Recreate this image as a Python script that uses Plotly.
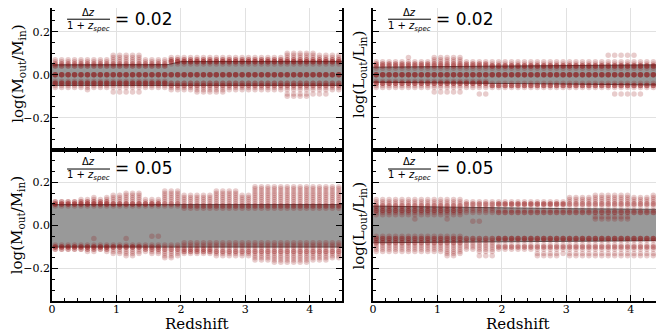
import plotly.graph_objects as go
from plotly.subplots import make_subplots

# redshift bin centres (one column of points per bin)
REDSHIFT = [0.05, 0.15, 0.25, 0.35, 0.45, 0.55, 0.65, 0.75, 0.85, 0.95,
            1.05, 1.15, 1.25, 1.35, 1.45, 1.55, 1.65, 1.75, 1.85, 1.95,
            2.05, 2.15, 2.25, 2.35, 2.45, 2.55, 2.65, 2.75, 2.85, 2.95,
            3.05, 3.15, 3.25, 3.35, 3.45, 3.55, 3.65, 3.75, 3.85, 3.95,
            4.05, 4.15, 4.25, 4.35, 4.45]

# log ratios per redshift column, in units of 0.01
MASS_02 = [
    [7, 6, 5, 5, 4, 4, 0, 0, 0, 0, -3, -4, -4, -4, -5, -6],
    [7, 6, 5, 5, 4, 4, 0, 0, 0, 0, -3, -4, -4, -4, -5, -6],
    [7, 6, 5, 5, 4, 4, 0, 0, 0, 0, -3, -4, -4, -4, -5, -6],
    [7, 6, 5, 5, 4, 4, 0, 0, 0, 0, -3, -4, -4, -4, -5, -6],
    [7, 6, 5, 5, 4, 4, 0, 0, 0, 0, -3, -4, -4, -4, -5, -6],
    [7, 6, 5, 5, 4, 4, 0, 0, 0, 0, -3, -4, -4, -4, -5, -6, -7],
    [7, 6, 5, 5, 4, 4, 0, 0, 0, 0, -3, -4, -4, -4, -5, -6],
    [7, 6, 5, 5, 4, 4, 0, 0, 0, 0, -3, -4, -4, -4, -5, -6],
    [7, 6, 5, 5, 4, 4, 0, 0, 0, 0, -3, -4, -4, -4, -5, -6],
    [9, 8, 7, 6, 5, 5, 4, 4, 0, 0, 0, 0, -3, -4, -4, -4, -5, -6, -8],
    [9, 8, 7, 6, 5, 5, 4, 4, 0, 0, 0, 0, -3, -4, -4, -4, -5, -6, -8],
    [9, 8, 7, 6, 5, 5, 4, 4, 0, 0, 0, 0, -3, -4, -4, -4, -5, -6, -8],
    [9, 8, 7, 6, 5, 5, 4, 4, 0, 0, 0, 0, -3, -4, -4, -4, -5, -6, -8],
    [9, 8, 7, 6, 5, 5, 4, 4, 0, 0, 0, 0, -3, -4, -4, -4, -5, -6, -8],
    [7, 6, 5, 5, 4, 4, 0, 0, 0, 0, -3, -4, -4, -4, -5, -6],
    [7, 6, 5, 5, 4, 4, 0, 0, 0, 0, -3, -4, -4, -4, -5, -6],
    [7, 6, 5, 5, 4, 4, 0, 0, 0, 0, -3, -4, -4, -4, -5, -6],
    [7, 6, 5, 5, 4, 4, 0, 0, 0, 0, -3, -4, -4, -4, -5, -6],
    [8, 7, 7, 6, 6, 6, 5, 0, 0, 0, 0, -4, -4, -5, -5, -6, -7],
    [8, 7, 7, 6, 6, 6, 5, 0, 0, 0, 0, -4, -4, -5, -5, -6, -7],
    [8, 7, 7, 6, 6, 6, 5, 0, 0, 0, 0, -4, -4, -5, -5, -6, -7],
    [8, 7, 7, 6, 6, 6, 5, 0, 0, 0, 0, -4, -4, -5, -5, -6, -7],
    [8, 7, 7, 6, 6, 6, 5, 0, 0, 0, 0, -4, -4, -5, -5, -6, -7, -8],
    [8, 7, 7, 6, 6, 6, 5, 0, 0, 0, 0, -4, -4, -5, -5, -6, -7, -8],
    [8, 7, 7, 6, 6, 6, 5, 0, 0, 0, 0, -4, -4, -5, -5, -6, -7, -8],
    [8, 7, 7, 6, 6, 6, 5, 0, 0, 0, 0, -4, -4, -5, -5, -6, -7, -8],
    [8, 7, 7, 6, 6, 6, 5, 0, 0, 0, 0, -4, -4, -5, -5, -6, -7, -8],
    [8, 7, 7, 6, 6, 6, 5, 0, 0, 0, 0, -4, -4, -5, -5, -6, -7],
    [8, 7, 7, 6, 6, 6, 5, 0, 0, 0, 0, -4, -4, -5, -5, -6, -7],
    [8, 7, 7, 6, 6, 6, 5, 0, 0, 0, 0, -4, -4, -5, -5, -6, -7],
    [8, 7, 7, 6, 6, 6, 5, 0, 0, 0, 0, -4, -4, -5, -5, -6, -7],
    [8, 7, 7, 6, 6, 6, 5, 0, 0, 0, 0, -4, -4, -5, -5, -6, -7],
    [8, 7, 7, 6, 6, 6, 5, 0, 0, 0, 0, -4, -4, -5, -5, -6, -7],
    [8, 7, 7, 6, 6, 6, 5, 0, 0, 0, 0, -4, -4, -5, -5, -6, -7],
    [8, 7, 7, 6, 6, 6, 5, 0, 0, 0, 0, -4, -4, -5, -5, -6, -7],
    [8, 7, 7, 6, 6, 6, 5, 0, 0, 0, 0, -4, -4, -5, -5, -6, -7],
    [10, 9, 8, 7, 7, 6, 6, 6, 5, 0, 0, 0, 0, -4, -4, -5, -5, -6, -7, -9, -10],
    [10, 9, 8, 7, 7, 6, 6, 6, 5, 0, 0, 0, 0, -4, -4, -5, -5, -6, -7, -9, -10],
    [10, 9, 8, 7, 7, 6, 6, 6, 5, 0, 0, 0, 0, -4, -4, -5, -5, -6, -7, -9, -10],
    [10, 9, 8, 7, 7, 6, 6, 6, 5, 0, 0, 0, 0, -4, -4, -5, -5, -6, -7, -9, -10],
    [10, 9, 8, 7, 7, 6, 6, 6, 5, 0, 0, 0, 0, -4, -4, -5, -5, -6, -7, -9],
    [9, 8, 7, 7, 6, 6, 6, 5, 0, 0, 0, 0, -4, -4, -5, -5, -6, -7, -9],
    [9, 8, 7, 7, 6, 6, 6, 5, 0, 0, 0, 0, -4, -4, -5, -5, -6, -7, -9],
    [9, 8, 7, 7, 6, 6, 6, 5, 0, 0, 0, 0, -4, -4, -5, -5, -6, -7],
    [9, 8, 7, 7, 6, 6, 6, 5, 0, 0, 0, 0, -4, -4, -5, -5, -6, -7],
]

MASS_05 = [
    [11, 11, 10, 10, 10, 9, -9, -10, -10, -10, -11, -11],
    [11, 11, 10, 10, 10, 9, -9, -10, -10, -10, -11, -11],
    [11, 11, 10, 10, 10, 9, -9, -10, -10, -10, -11, -11],
    [11, 11, 10, 10, 10, 9, -9, -10, -10, -10, -11, -11],
    [12, 11, 11, 10, 10, 10, 9, -9, -10, -10, -10, -11, -11],
    [12, 11, 11, 10, 10, 10, 9, -9, -10, -10, -10, -11, -11, -12],
    [13, 12, 11, 11, 10, 10, 10, 9, -6, -9, -10, -10, -10, -11, -11, -12],
    [12, 11, 11, 10, 10, 10, 9, -9, -10, -10, -10, -11, -11],
    [13, 12, 11, 11, 10, 10, 10, 9, -9, -10, -10, -10, -11, -11, -12],
    [14, 13, 12, 11, 10, 10, 10, 9, -9, -10, -10, -10, -11, -12, -13],
    [14, 13, 12, 11, 10, 10, 10, 9, -9, -10, -10, -10, -11, -12, -13],
    [15, 14, 13, 12, 11, 10, 10, 10, 9, -6, -9, -10, -10, -10, -11, -12, -13, -14],
    [15, 14, 13, 12, 11, 10, 10, 10, 9, -9, -10, -10, -10, -11, -12, -13, -14],
    [15, 14, 13, 12, 11, 10, 10, 10, 9, -9, -10, -10, -10, -11, -12, -13],
    [12, 11, 10, 10, 10, 9, -9, -10, -10, -11, -11, -12],
    [12, 11, 10, 10, 10, 9, -5, -9, -10, -10, -11, -11, -12, -13],
    [12, 11, 10, 10, 10, 9, -5, -9, -10, -10, -11, -11, -12, -13],
    [16, 15, 14, 13, 12, 11, 10, 10, 9, -9, -10, -11, -11, -12, -13, -14, -15],
    [16, 15, 14, 13, 12, 11, 10, 10, 9, -9, -10, -11, -11, -12, -13, -14, -15],
    [16, 15, 14, 13, 12, 11, 10, 10, 9, -9, -10, -11, -11, -12, -13, -14],
    [14, 13, 12, 11, 10, 9, 9, 8, -8, -9, -10, -11, -11, -12, -12, -13],
    [14, 13, 12, 11, 10, 9, 9, 8, -8, -9, -10, -11, -11, -12, -12, -13],
    [14, 13, 12, 11, 10, 9, 9, 8, -8, -9, -10, -11, -11, -12, -12, -13],
    [14, 13, 12, 11, 10, 9, 9, 8, -8, -9, -10, -11, -11, -12, -12, -13],
    [14, 13, 12, 11, 10, 9, 9, 8, -8, -9, -10, -11, -11, -12, -12, -13],
    [16, 15, 14, 13, 12, 11, 10, 9, 9, 8, -8, -9, -10, -11, -12, -12, -13, -14],
    [16, 15, 14, 13, 12, 11, 10, 9, 9, 8, -8, -9, -10, -11, -12, -12, -13, -14],
    [16, 15, 14, 13, 12, 11, 10, 9, 9, 8, -8, -9, -10, -11, -12, -12, -13, -14],
    [16, 15, 14, 13, 12, 11, 10, 9, 9, 8, -8, -9, -10, -11, -12, -12, -13, -14],
    [14, 13, 12, 11, 10, 9, 9, 8, -8, -9, -10, -11, -12, -12, -13, -14],
    [14, 13, 12, 11, 10, 9, 9, 8, -8, -9, -10, -11, -12, -12, -13, -14],
    [18, 17, 16, 15, 14, 13, 12, 11, 10, 9, 9, 8, -8, -9, -10, -11, -12, -12, -13, -14, -15, -16],
    [18, 17, 16, 15, 14, 13, 12, 11, 10, 9, 9, 8, -8, -9, -10, -11, -12, -12, -13, -14, -15, -16],
    [18, 17, 16, 15, 14, 13, 12, 11, 10, 9, 9, 8, -8, -9, -10, -11, -12, -12, -13, -14, -15, -16],
    [18, 17, 16, 15, 14, 13, 12, 11, 10, 9, 9, 8, -8, -9, -10, -11, -12, -12, -13, -14, -15, -16, -17],
    [18, 17, 16, 15, 14, 13, 12, 11, 10, 9, 9, 8, -8, -9, -10, -11, -12, -12, -13, -14, -15, -16, -17],
    [18, 17, 16, 15, 14, 13, 12, 11, 10, 9, 9, 8, -8, -9, -10, -11, -12, -12, -13, -14, -15, -16, -17],
    [18, 17, 16, 15, 14, 13, 12, 11, 10, 9, 9, 8, -8, -9, -10, -11, -12, -12, -13, -14, -15, -16, -17],
    [18, 17, 16, 15, 14, 13, 12, 11, 10, 9, 9, 8, -8, -9, -10, -11, -12, -12, -13, -14, -15, -16, -17],
    [18, 17, 16, 15, 14, 13, 12, 11, 10, 9, 9, 8, -8, -9, -10, -11, -12, -12, -13, -14, -15, -16, -17],
    [18, 17, 16, 15, 14, 13, 12, 11, 10, 9, 9, 8, -8, -9, -10, -11, -12, -12, -13, -14, -15, -16],
    [18, 17, 16, 15, 14, 13, 12, 11, 10, 9, 9, 8, -8, -9, -10, -11, -12, -12, -13, -14, -15, -16],
    [18, 17, 16, 15, 14, 13, 12, 11, 10, 9, 9, 8, -8, -9, -10, -11, -12, -12, -13, -14, -15, -16],
    [18, 17, 16, 15, 14, 13, 12, 11, 10, 9, 9, 8, -8, -9, -10, -11, -12, -12, -13, -14, -15],
    [18, 17, 16, 15, 14, 13, 12, 11, 10, 9, 9, 8, -8, -9, -10, -11, -12, -12, -13, -14, -15],
]

LUM_02 = [
    [6, 5, 5, 4, 4, 3, 0, 0, 0, 0, -3, -4, -4, -4, -5, -6],
    [6, 5, 5, 4, 4, 3, 0, 0, 0, 0, -3, -4, -4, -4, -5, -6],
    [6, 5, 5, 4, 4, 3, 0, 0, 0, 0, -3, -4, -4, -4, -5, -6],
    [6, 5, 5, 4, 4, 3, 0, 0, 0, 0, -3, -4, -4, -4, -5, -6],
    [6, 5, 5, 4, 4, 3, 0, 0, 0, 0, -3, -4, -4, -4, -5, -6],
    [8, 6, 5, 5, 4, 4, 3, 0, 0, 0, 0, -3, -4, -4, -4, -5, -6],
    [6, 5, 5, 4, 4, 3, 0, 0, 0, 0, -3, -4, -4, -4, -5, -6],
    [6, 5, 5, 4, 4, 3, 0, 0, 0, 0, -3, -4, -4, -4, -5, -6],
    [6, 5, 5, 4, 4, 3, 0, 0, 0, 0, -3, -4, -4, -4, -5, -6],
    [8, 7, 6, 5, 5, 4, 4, 3, 0, 0, 0, 0, -3, -4, -4, -4, -5, -6, -8],
    [8, 7, 6, 5, 5, 4, 4, 3, 0, 0, 0, 0, -3, -4, -4, -4, -5, -6, -8],
    [8, 7, 6, 5, 5, 4, 4, 3, 0, 0, 0, 0, -3, -4, -4, -4, -5, -6, -8],
    [8, 7, 6, 5, 5, 4, 4, 3, 0, 0, 0, 0, -3, -4, -4, -4, -5, -6, -8],
    [8, 7, 6, 5, 5, 4, 4, 3, 0, 0, 0, 0, -3, -4, -4, -4, -5, -6, -8],
    [6, 5, 5, 4, 4, 3, 0, 0, 0, 0, -3, -4, -4, -4, -5, -6],
    [6, 5, 5, 4, 4, 3, 0, 0, 0, 0, -3, -4, -4, -4, -5, -6],
    [6, 5, 5, 4, 4, 3, 0, 0, 0, 0, -3, -4, -4, -4, -5, -6, -9],
    [6, 5, 5, 4, 4, 3, 0, 0, 0, 0, -3, -4, -4, -4, -5, -6, -9],
    [6, 5, 4, 4, 4, 3, 0, 0, 0, 0, -4, -5, -5, -5, -6],
    [6, 5, 4, 4, 4, 3, 0, 0, 0, 0, -4, -5, -5, -5, -6],
    [6, 5, 4, 4, 4, 3, 0, 0, 0, 0, -4, -5, -5, -5, -6],
    [6, 5, 4, 4, 4, 3, 0, 0, 0, 0, -4, -5, -5, -5, -6],
    [6, 5, 4, 4, 4, 3, 0, 0, 0, 0, -4, -5, -5, -5, -6],
    [6, 5, 4, 4, 4, 3, 0, 0, 0, 0, -4, -5, -5, -5, -6],
    [6, 5, 4, 4, 4, 3, 0, 0, 0, 0, -4, -5, -5, -5, -6],
    [6, 5, 4, 4, 4, 3, 0, 0, 0, 0, -4, -5, -5, -5, -6],
    [6, 5, 4, 4, 4, 3, 0, 0, 0, 0, -4, -5, -5, -5, -6],
    [6, 5, 4, 4, 4, 3, 0, 0, 0, 0, -4, -5, -5, -5, -6],
    [6, 5, 4, 4, 4, 3, 0, 0, 0, 0, -4, -5, -5, -5, -6],
    [6, 5, 4, 4, 4, 3, 0, 0, 0, 0, -4, -5, -5, -5, -6],
    [6, 5, 4, 4, 4, 3, 0, 0, 0, 0, -4, -5, -5, -5, -6],
    [6, 5, 4, 4, 4, 3, 0, 0, 0, 0, -4, -5, -5, -5, -6],
    [6, 5, 4, 4, 4, 3, 0, 0, 0, 0, -4, -5, -5, -5, -6],
    [6, 5, 4, 4, 4, 3, 0, 0, 0, 0, -4, -5, -5, -5, -6],
    [6, 5, 4, 4, 4, 3, 0, 0, 0, 0, -4, -5, -5, -5, -6],
    [6, 5, 4, 4, 4, 3, 0, 0, 0, 0, -4, -5, -5, -5, -6],
    [9, 6, 5, 4, 4, 4, 3, 0, 0, 0, 0, -4, -5, -5, -5, -6],
    [9, 6, 5, 4, 4, 4, 3, 0, 0, 0, 0, -4, -5, -5, -5, -6, -9],
    [9, 6, 5, 4, 4, 4, 3, 0, 0, 0, 0, -4, -5, -5, -5, -6, -9],
    [9, 6, 5, 4, 4, 4, 3, 0, 0, 0, 0, -4, -5, -5, -5, -6, -9],
    [9, 6, 5, 4, 4, 4, 3, 0, 0, 0, 0, -4, -5, -5, -5, -6, -9],
    [6, 5, 4, 4, 4, 3, 0, 0, 0, 0, -4, -5, -5, -5, -6, -9],
    [6, 5, 4, 4, 4, 3, 0, 0, 0, 0, -4, -5, -5, -5, -6],
    [6, 5, 4, 4, 4, 3, 0, 0, 0, 0, -4, -5, -5, -5, -6],
    [6, 5, 4, 4, 4, 3, 0, 0, 0, 0, -4, -5, -5, -5, -6],
]

LUM_05 = [
    [12, 11, 10, 9, 9, 8, 7, 7, 6, 5, -5, -6, -6, -7, -8, -8, -9, -10, -11, -12],
    [12, 11, 10, 9, 9, 8, 7, 7, 6, 5, -5, -6, -6, -7, -8, -8, -9, -10, -11, -12],
    [12, 11, 10, 9, 9, 8, 7, 7, 6, 5, -5, -6, -6, -7, -8, -8, -9, -10, -11, -12],
    [12, 11, 10, 9, 9, 8, 7, 7, 6, 5, -5, -6, -6, -7, -8, -8, -9, -10, -11, -12],
    [12, 11, 10, 9, 9, 8, 7, 7, 6, 5, -5, -6, -6, -7, -8, -8, -9, -10, -11, -12],
    [12, 11, 10, 9, 9, 8, 7, 7, 6, 5, -5, -6, -6, -7, -8, -8, -9, -10, -11, -12],
    [12, 11, 10, 9, 9, 8, 7, 7, 6, 5, 3, -5, -6, -6, -7, -8, -8, -9, -10, -11, -12],
    [12, 11, 10, 9, 9, 8, 7, 7, 6, 5, -5, -6, -6, -7, -8, -8, -9, -10, -11, -12],
    [12, 11, 10, 9, 9, 8, 7, 7, 6, 5, -5, -6, -6, -7, -8, -8, -9, -10, -11, -12],
    [12, 11, 10, 9, 9, 8, 7, 7, 6, 5, -5, -6, -6, -7, -8, -8, -9, -10, -11, -12],
    [12, 11, 10, 9, 9, 8, 7, 7, 6, 5, -5, -6, -6, -7, -8, -8, -9, -10, -11, -12],
    [12, 11, 10, 9, 9, 8, 7, 7, 6, 5, 3, -5, -6, -6, -7, -8, -8, -9, -10, -11, -12, -13, -14],
    [12, 11, 10, 9, 9, 8, 7, 7, 6, 5, -5, -6, -6, -7, -8, -8, -9, -10, -11, -12, -13, -14],
    [12, 11, 10, 9, 9, 8, 7, 7, 6, 5, -5, -6, -6, -7, -8, -8, -9, -10, -11, -12, -13],
    [11, 10, 10, 9, 8, 7, 6, -6, -6, -7, -8, -9, -10, -11],
    [11, 10, 10, 9, 8, 7, 6, 2, -6, -6, -7, -8, -9, -10, -11],
    [11, 10, 10, 9, 8, 7, 6, 2, -6, -6, -7, -8, -9, -10, -11, -12, -14],
    [11, 10, 10, 9, 8, 7, 6, -6, -6, -7, -8, -9, -10, -11, -12, -14],
    [11, 10, 10, 9, 8, 7, 6, -6, -6, -7, -8, -9, -10, -11, -12, -14],
    [11, 10, 10, 10, 9, 7, 6, 6, -6, -6, -6, -7, -9, -10, -10, -11],
    [11, 10, 10, 10, 9, 7, 6, 6, -6, -6, -6, -7, -9, -10, -10, -11],
    [11, 10, 10, 10, 9, 7, 6, 6, -6, -6, -6, -7, -9, -10, -10, -11],
    [11, 10, 10, 10, 9, 7, 6, 6, -6, -6, -6, -7, -9, -10, -10, -11],
    [11, 10, 10, 10, 9, 7, 6, 6, -6, -6, -6, -7, -9, -10, -10, -11],
    [11, 10, 10, 10, 9, 7, 6, 6, -6, -6, -6, -7, -9, -10, -10, -11],
    [11, 10, 10, 10, 9, 7, 6, 6, -6, -6, -6, -7, -9, -10, -10, -11, -13, -14],
    [11, 10, 10, 10, 9, 7, 6, 6, -6, -6, -6, -7, -9, -10, -10, -11, -13, -14],
    [11, 10, 10, 10, 9, 7, 6, 6, -6, -6, -6, -7, -9, -10, -10, -11, -13, -14],
    [11, 10, 10, 10, 9, 7, 6, 6, -6, -6, -6, -7, -9, -10, -10, -11, -13, -14],
    [11, 10, 10, 10, 9, 7, 6, 6, -6, -6, -6, -7, -9, -10, -10, -11, -13],
    [13, 12, 11, 10, 10, 9, 7, 6, 6, -6, -6, -6, -7, -9, -10, -10, -11, -13, -14],
    [13, 12, 11, 10, 10, 9, 7, 6, 6, -6, -6, -6, -7, -9, -10, -10, -11, -13, -14],
    [13, 12, 11, 10, 10, 9, 7, 6, 6, -6, -6, -6, -7, -9, -10, -10, -11, -13, -14],
    [13, 12, 11, 10, 10, 9, 7, 6, 6, -6, -6, -6, -7, -9, -10, -10, -11, -13, -14],
    [14, 13, 12, 11, 10, 10, 9, 7, 6, 6, 4, 3, -6, -6, -6, -7, -9, -10, -10, -11, -13, -14],
    [14, 13, 12, 11, 10, 10, 9, 7, 6, 6, 4, 3, -6, -6, -6, -7, -9, -10, -10, -11, -13, -14],
    [14, 13, 12, 11, 10, 10, 9, 7, 6, 6, 4, 3, -6, -6, -6, -7, -9, -10, -10, -11, -13, -14],
    [14, 13, 12, 11, 10, 10, 9, 7, 6, 6, 4, 3, -6, -6, -6, -7, -9, -10, -10, -11, -13, -14],
    [14, 13, 12, 11, 10, 10, 9, 7, 6, 6, 4, 3, -6, -6, -6, -7, -9, -10, -10, -11, -13, -14],
    [14, 13, 12, 11, 10, 10, 9, 7, 6, 6, 4, 3, -6, -6, -6, -7, -9, -10, -10, -11, -13, -14],
    [13, 12, 11, 10, 10, 9, 7, 6, 6, -6, -6, -6, -7, -9, -10, -10, -11, -13, -14],
    [13, 12, 11, 10, 10, 9, 7, 6, 6, -6, -6, -6, -7, -9, -10, -10, -11, -13, -14],
    [13, 12, 11, 10, 10, 9, 7, 6, 6, -6, -6, -6, -7, -9, -10, -10, -11, -13, -14],
    [14, 13, 12, 11, 10, 10, 9, 7, 6, 6, -6, -6, -6, -7, -9, -10, -10, -11, -13, -14],
    [13, 12, 11, 10, 10, 9, 7, 6, 6, -6, -6, -6, -7, -9, -10, -10, -11, -13, -14],
]

# grey scatter band (lower / upper edge) along redshift
BAND_Z = [0.0, 1.0, 1.8, 2.0, 3.0, 4.0, 4.5]
BAND_MASS_02 = ([-0.05, -0.05, -0.05, -0.05, -0.05, -0.05, -0.05],
                [0.046, 0.046, 0.047, 0.061, 0.062, 0.062, 0.062])
BAND_MASS_05 = ([-0.10, -0.10, -0.10, -0.10, -0.10, -0.10, -0.10],
                [0.097, 0.097, 0.097, 0.097, 0.097, 0.097, 0.097])
BAND_LUM_02 = ([-0.035, -0.038, -0.040, -0.042, -0.045, -0.047, -0.048],
               [0.035, 0.037, 0.039, 0.040, 0.042, 0.045, 0.046])
BAND_LUM_05 = ([-0.08, -0.078, -0.076, -0.075, -0.072, -0.070, -0.070],
               [0.090, 0.085, 0.082, 0.080, 0.078, 0.076, 0.075])

PANELS = [
    (1, 1, MASS_02, BAND_MASS_02, "0.02"),
    (1, 2, LUM_02, BAND_LUM_02, "0.02"),
    (2, 1, MASS_05, BAND_MASS_05, "0.05"),
    (2, 2, LUM_05, BAND_LUM_05, "0.05"),
]

Y_TITLES = {1: "log(M<sub>out</sub>/M<sub>in</sub>)", 2: "log(L<sub>out</sub>/L<sub>in</sub>)"}
X_TITLE = "Redshift"

SERIF = "DejaVu Serif"
SANS = "DejaVu Sans"

# the page body adds an 8px offset, so the figure is laid out 8px smaller
fig = make_subplots(rows=2, cols=2, shared_xaxes=True, shared_yaxes=True,
                    horizontal_spacing=0.0507, vertical_spacing=0.0,
                    row_heights=[142, 151])

# vertical label positions (domain fraction) per row: numerator, bar, denominator, "= x"
LABEL_Y = {1: (0.968, 0.921, 0.872, 0.925), 2: (0.922, 0.874, 0.828, 0.88)}
title_font = dict(family=SERIF, size=15, color="black")

for k, (row, col, cols, band, dz) in enumerate(PANELS):
    lo, hi = band
    fig.add_trace(go.Scatter(x=BAND_Z, y=lo, mode="lines",
                             line=dict(color="rgb(95,95,95)", width=1),
                             showlegend=False, hoverinfo="skip"), row=row, col=col)
    fig.add_trace(go.Scatter(x=BAND_Z, y=hi, mode="lines", fill="tonexty",
                             fillcolor="rgb(153,153,153)",
                             line=dict(color="rgb(95,95,95)", width=1),
                             showlegend=False, hoverinfo="skip"), row=row, col=col)
    xs, ys = [], []
    for z, vals in zip(REDSHIFT, cols):
        for v in vals:
            xs.append(z)
            ys.append(v / 100.0)
    fig.add_trace(go.Scatter(x=xs, y=ys, mode="markers",
                             marker=dict(size=5.5, color="rgba(139,0,0,0.2)", line=dict(width=0)),
                             showlegend=False, hoverinfo="skip"), row=row, col=col)

    # label: Δz / (1 + z_spec) = value
    xr = "x domain" if k == 0 else f"x{k + 1} domain"
    yr = "y domain" if k == 0 else f"y{k + 1} domain"
    yn, yb, yd, ye = LABEL_Y[row]
    fig.add_annotation(xref=xr, yref=yr, x=0.125, y=yn, xanchor="center", yanchor="middle",
                       text="Δ<i>z</i>", showarrow=False,
                       font=dict(family=SANS, size=10, color="black"))
    fig.add_annotation(xref=xr, yref=yr, x=0.125, y=yd, xanchor="center", yanchor="middle",
                       text="1 + <i>z</i><sub><i>spec</i></sub>", showarrow=False,
                       font=dict(family=SANS, size=10, color="black"))
    fig.add_annotation(xref=xr, yref=yr, x=0.212, y=ye, xanchor="left", yanchor="middle",
                       text="= " + dz, showarrow=False,
                       font=dict(family=SANS, size=17, color="black"))
    fig.add_shape(type="line", xref=xr, yref=yr, x0=0.052, x1=0.2, y0=yb, y1=yb,
                  line=dict(color="black", width=1))

    # axis titles placed as annotations so their position is exact
    fig.add_annotation(xref=xr, yref=yr, x=-0.118 if col == 1 else -0.048,
                       y=0.535 if row == 1 else 0.5, xanchor="center", yanchor="middle",
                       textangle=-90, text=Y_TITLES[col], showarrow=False, font=title_font)
    if row == 2:
        fig.add_annotation(xref=xr, yref=yr, x=0.5, y=-0.152, xanchor="center", yanchor="middle",
                           text=X_TITLE, showarrow=False, font=title_font)

axis_common = dict(showline=True, linecolor="black", linewidth=1.5, mirror="allticks",
                   ticks="inside", ticklen=6, tickwidth=1, tickcolor="black",
                   showgrid=True, gridcolor="rgb(225,225,225)", gridwidth=1, automargin=False,
                   tickfont=dict(family=SERIF, size=11, color="black"))

fig.update_xaxes(range=[0, 4.5], dtick=1, tick0=0, zeroline=False, ticklabelstandoff=-3,
                 minor=dict(dtick=0.2, ticks="inside", ticklen=3, tickcolor="black", showgrid=False),
                 **axis_common)
fig.update_yaxes(dtick=0.2, tick0=0, tickformat=".1f", ticklabelstandoff=-2,
                 zeroline=True, zerolinecolor="black", zerolinewidth=1.5,
                 minor=dict(dtick=0.05, ticks="inside", ticklen=3, tickcolor="black", showgrid=False),
                 **axis_common)
# top row is cut at the top edge in the original, so no top frame there
fig.update_yaxes(range=[-0.35, 0.31], row=1)
fig.update_yaxes(range=[-0.35, 0.35], row=2)
fig.update_xaxes(mirror=False, row=1)

fig.update_layout(width=656, height=324, margin=dict(l=44, r=1, t=0, b=31),
                  plot_bgcolor="white", paper_bgcolor="white", showlegend=False)

fig.write_html("out.html")
